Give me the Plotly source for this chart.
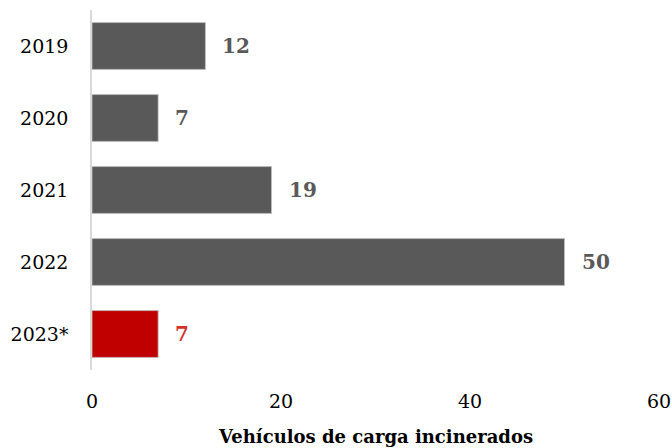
import plotly.graph_objects as go

years = ["2019", "2020", "2021", "2022", "2023*"]
values = [12, 7, 19, 50, 7]
bar_colors = ["#595959", "#595959", "#595959", "#595959", "#C00000"]
label_colors = ["#595959", "#595959", "#595959", "#595959", "#D3312A"]
x_ticks = [0, 20, 40, 60]
x_title = "Vehículos de carga incinerados"

FONT = "DejaVu Serif"

fig = go.Figure()
fig.add_trace(go.Bar(
    y=years, x=values, orientation="h",
    marker=dict(color=bar_colors, line=dict(color="#BFBFBF", width=0.8)),
    width=0.65,
    hoverinfo="x+y",
))

for i, (xv, c) in enumerate(zip(values, label_colors)):
    fig.add_annotation(
        x=xv, y=i, text=f"<b>{xv}</b>", showarrow=False,
        xanchor="left", xshift=15,
        font=dict(family=FONT, size=20, color=c),
    )

fig.add_annotation(
    xref="paper", yref="paper", x=0.5, y=0, yanchor="middle", yshift=-66,
    text=f"<b>{x_title}</b>", showarrow=False,
    font=dict(family=FONT, size=18, color="#000000"),
)

fig.update_layout(
    width=672, height=448,
    margin=dict(l=92, r=13, t=10, b=78, autoexpand=False),
    paper_bgcolor="white", plot_bgcolor="white",
    showlegend=False,
    font=dict(family=FONT, size=19, color="#000000"),
    xaxis=dict(
        range=[0, 60], tickvals=x_ticks, showgrid=False, zeroline=False,
        showline=False, ticks="", automargin=False, ticklabelstandoff=18,
        tickfont=dict(family=FONT, size=19, color="#000000"),
    ),
    yaxis=dict(
        type="category", automargin=False,
        categoryorder="array", categoryarray=years, range=[4.5, -0.5],
        showgrid=False, zeroline=False, showline=True, linecolor="#D9D9D9",
        linewidth=1.5, ticks="", ticklabelstandoff=18,
        tickfont=dict(family=FONT, size=19, color="#000000"),
    ),
)

fig.write_html(
    "out.html",
    config={"displayModeBar": False},
    post_script="document.body.style.margin='0';document.documentElement.style.overflow='hidden';",
)
